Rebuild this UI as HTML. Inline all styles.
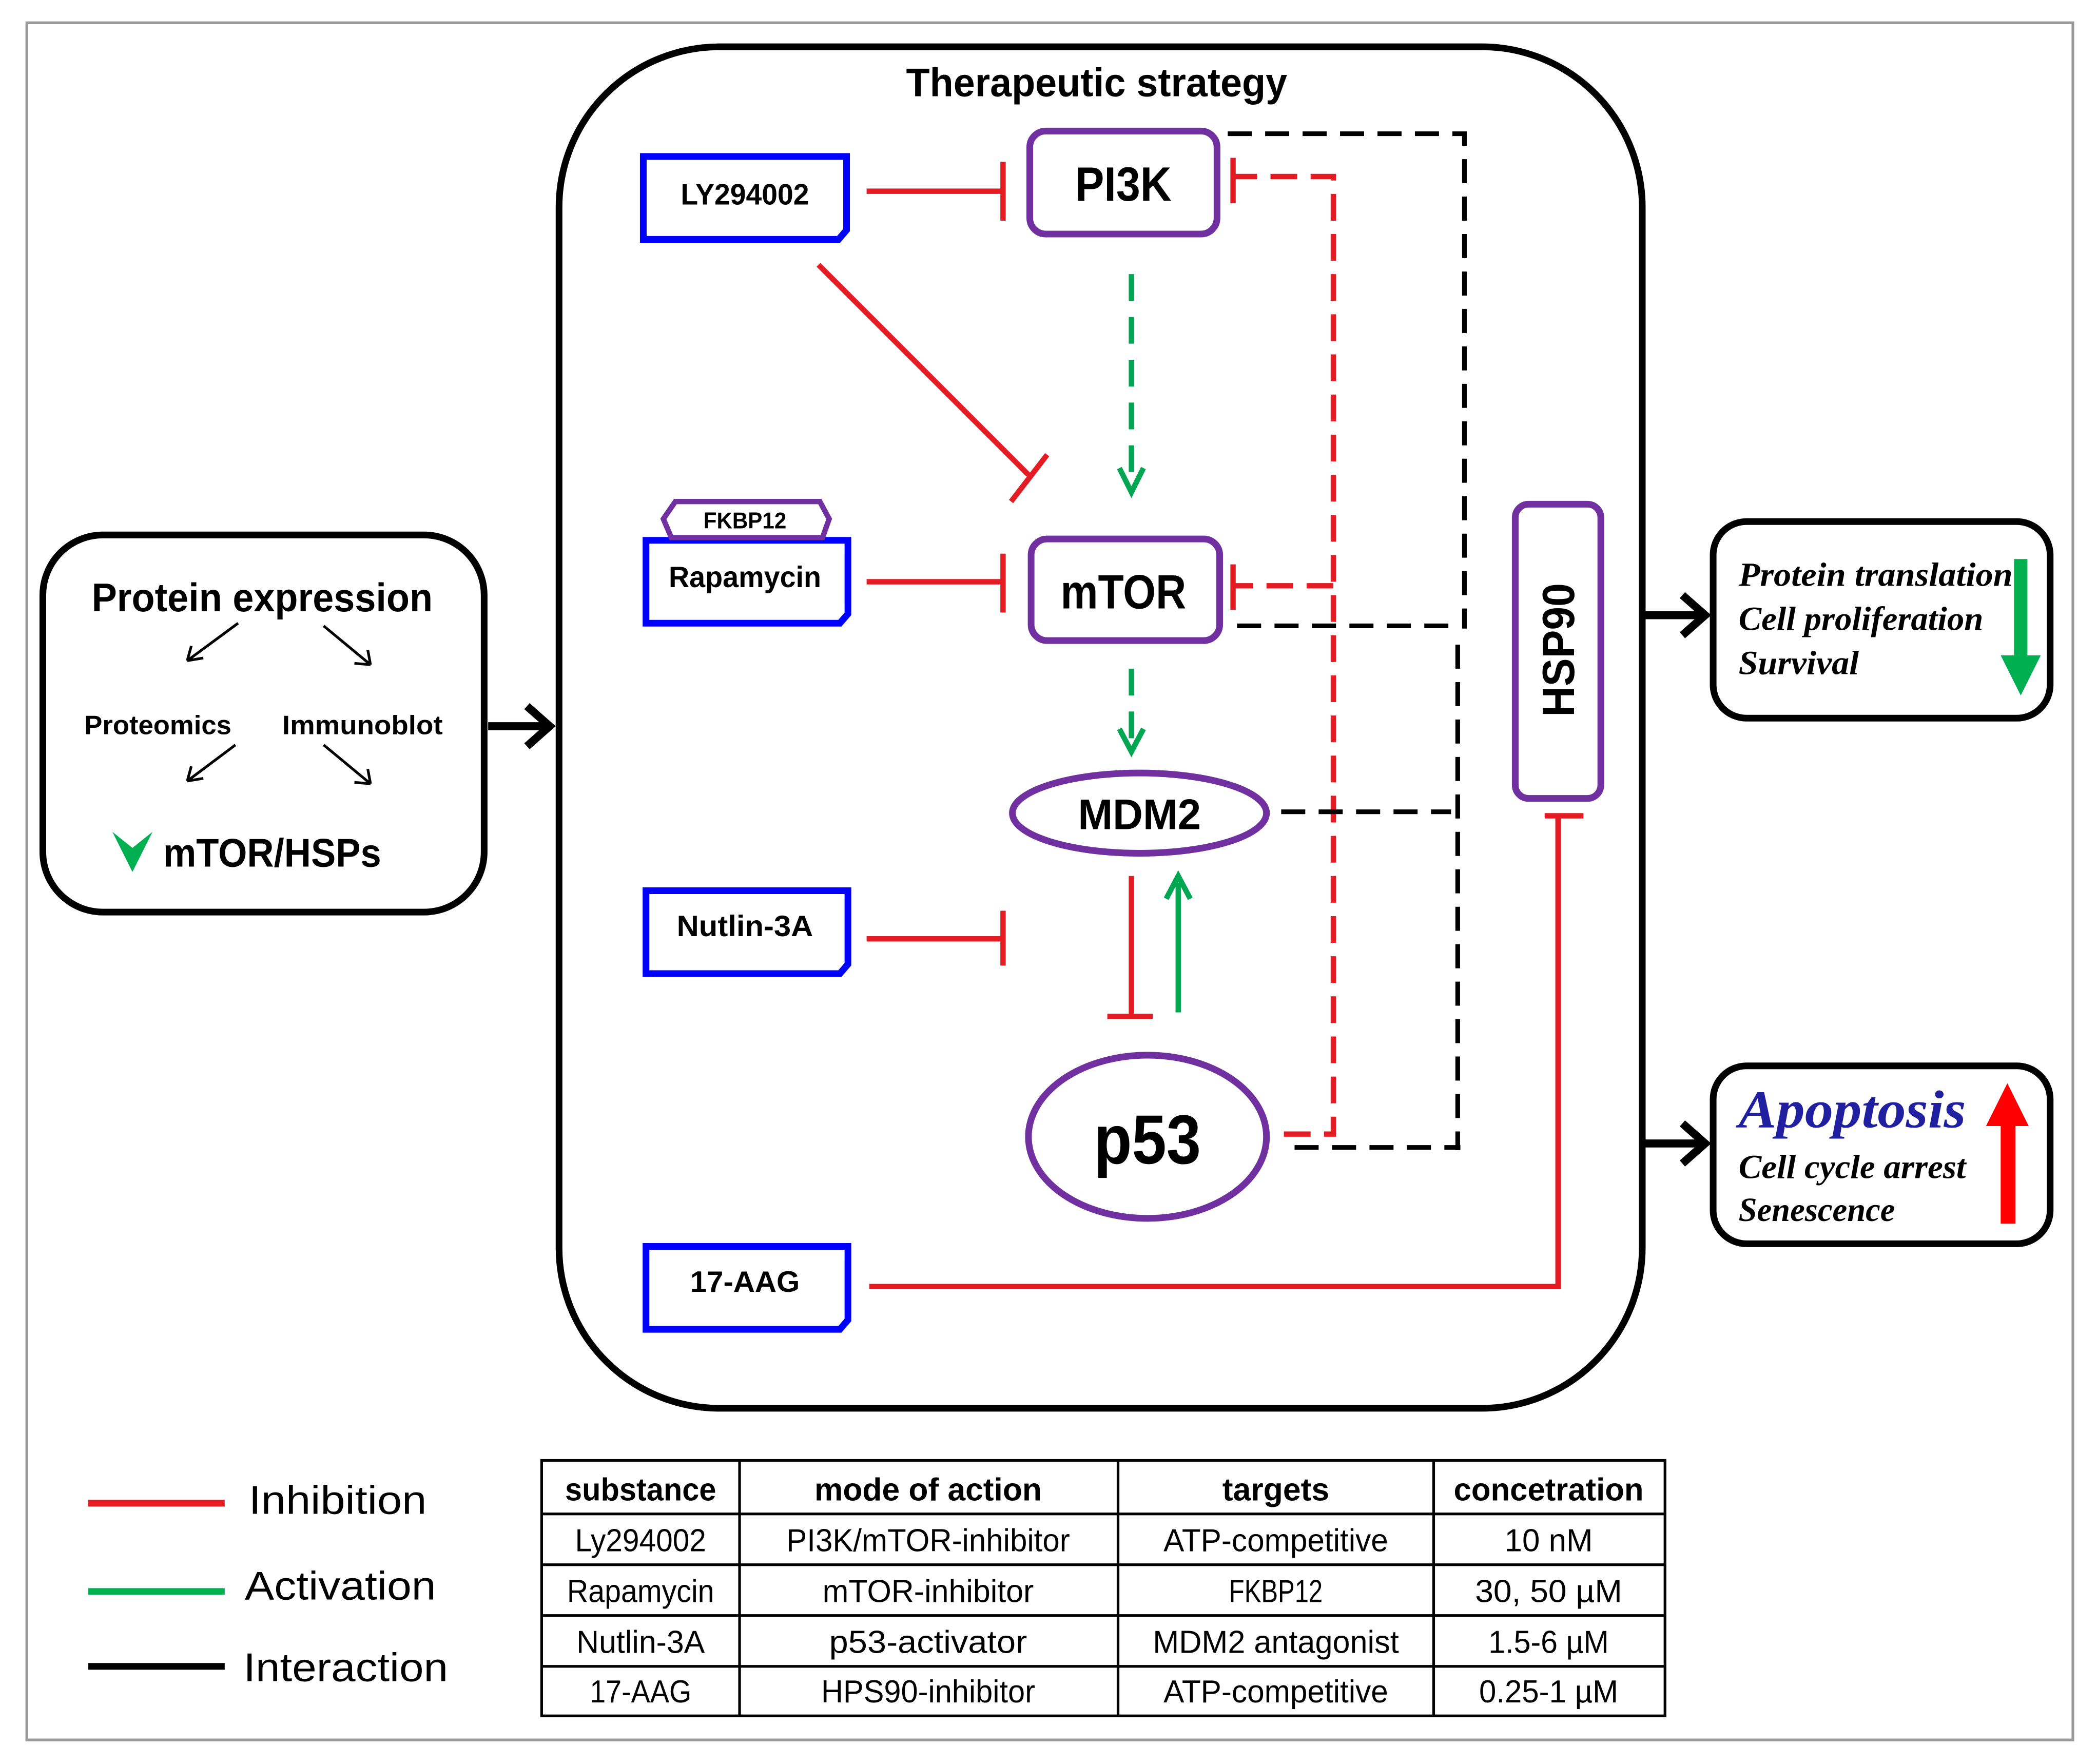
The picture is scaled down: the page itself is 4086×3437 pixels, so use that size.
<!DOCTYPE html>
<html><head><meta charset="utf-8"><style>html,body{margin:0;padding:0;background:#fff}svg{display:block}</style></head><body>
<svg xmlns="http://www.w3.org/2000/svg" width="4086" height="3437" viewBox="0 0 1568 1319" font-family="'Liberation Sans',sans-serif">
<rect x="20" y="17" width="1530" height="1284" fill="#fff" stroke="#999" stroke-width="2"/>
<rect x="32" y="400" width="330" height="282" rx="45" fill="none" stroke="#000" stroke-width="5"/>
<text x="196" y="457" text-anchor="middle" font-size="30" font-weight="bold" textLength="255" lengthAdjust="spacingAndGlyphs">Protein expression</text>
<g stroke="#000" stroke-width="2" fill="none">
<path d="M178,466 L140,494 M140,494 l12,-2 M140,494 l3,-11"/>
<path d="M242,468 L277,497 M277,497 l-12,-1 M277,497 l-2,-11"/>
<path d="M176,557 L140,584 M140,584 l12,-2 M140,584 l3,-11"/>
<path d="M242,557 L277,586 M277,586 l-12,-1 M277,586 l-2,-11"/>
</g>
<text x="118" y="549" text-anchor="middle" font-size="20" font-weight="bold" textLength="110" lengthAdjust="spacingAndGlyphs">Proteomics</text>
<text x="271" y="549" text-anchor="middle" font-size="20" font-weight="bold" textLength="120" lengthAdjust="spacingAndGlyphs">Immunoblot</text>
<path d="M84,622 L99,652 L114,622 L99,634 Z" fill="#00b050"/>
<text x="122" y="648" font-size="30" font-weight="bold" textLength="163" lengthAdjust="spacingAndGlyphs">mTOR/HSPs</text>
<g stroke="#000" stroke-width="6" fill="none">
<path d="M365,543 L410,543 M394,528 L411,543 L394,558"/>
<path d="M1230,460 L1274,460 M1258,445 L1275,460 L1258,475"/>
<path d="M1230,855 L1274,855 M1258,840 L1275,855 L1258,870"/>
</g>
<rect x="418" y="35" width="810" height="1018" rx="120" fill="none" stroke="#000" stroke-width="5"/>
<rect x="670" y="40" width="300" height="40" fill="#fff"/>
<text x="820" y="72" text-anchor="middle" font-size="30" font-weight="bold" textLength="285" lengthAdjust="spacingAndGlyphs">Therapeutic strategy</text>
<g fill="#fff" stroke="#0000ff" stroke-width="5">
<path d="M481,117 H633 V172 L627,179 H481 Z"/>
<path d="M483,404 H634 V459 L628,466 H483 Z"/>
<path d="M483,666 H634 V721 L628,728 H483 Z"/>
<path d="M483,932 H634 V987 L628,994 H483 Z"/>
</g>
<path d="M505,375 H613 L620,388 L615,402 H502 L496,388 Z" fill="#fff" stroke="#7030a0" stroke-width="4"/>
<g font-size="22" font-weight="bold" text-anchor="middle">
<text x="557" y="153" textLength="96" lengthAdjust="spacingAndGlyphs">LY294002</text>
<text x="557" y="439" textLength="114" lengthAdjust="spacingAndGlyphs">Rapamycin</text>
<text x="557" y="700" textLength="102" lengthAdjust="spacingAndGlyphs">Nutlin-3A</text>
<text x="557" y="966" textLength="82" lengthAdjust="spacingAndGlyphs">17-AAG</text>
</g>
<text x="557" y="395" text-anchor="middle" font-size="17" font-weight="bold" textLength="62" lengthAdjust="spacingAndGlyphs">FKBP12</text>
<g fill="#fff" stroke="#7030a0" stroke-width="5">
<rect x="770" y="98" width="140" height="77" rx="12"/>
<rect x="771" y="403" width="141" height="76" rx="12"/>
<ellipse cx="852" cy="608" rx="95" ry="30"/>
<ellipse cx="858" cy="850" rx="89" ry="61"/>
<rect x="1133" y="377" width="64" height="220" rx="10"/>
</g>
<text x="840" y="150" text-anchor="middle" font-size="36" font-weight="bold" textLength="72" lengthAdjust="spacingAndGlyphs">PI3K</text>
<text x="840" y="455" text-anchor="middle" font-size="36" font-weight="bold" textLength="94" lengthAdjust="spacingAndGlyphs">mTOR</text>
<text x="852" y="620" text-anchor="middle" font-size="32" font-weight="bold" textLength="92" lengthAdjust="spacingAndGlyphs">MDM2</text>
<text x="858" y="870" text-anchor="middle" font-size="52" font-weight="bold" textLength="80" lengthAdjust="spacingAndGlyphs">p53</text>
<text transform="translate(1177,486) rotate(-90)" text-anchor="middle" font-size="34" font-weight="bold" textLength="100" lengthAdjust="spacingAndGlyphs">HSP90</text>
<g stroke="#e31b23" stroke-width="4" fill="none">
<path d="M648,143 H750 M750,121 V165"/>
<path d="M612,198 L769,355 M756,375 L783,340"/>
<path d="M648,435 H750 M750,414 V458"/>
<path d="M648,702 H750 M750,681 V722"/>
<path d="M846,655 V760 M828,760 H862"/>
<path d="M650,962 H1165 V610 M1155,610 H1184"/>
<path d="M922,118 V152 M922,422 V456"/>
</g>
<g stroke="#e31b23" stroke-width="4" fill="none" stroke-dasharray="20,10">
<path d="M960,848 H997 V132 H922"/>
<path d="M997,438 H922"/>
</g>
<g stroke="#00a651" stroke-width="4" fill="none">
<path d="M846,205 V360" stroke-dasharray="20,12"/>
<path d="M837,350 L846,368 L855,350"/>
<path d="M846,500 V555" stroke-dasharray="20,12"/>
<path d="M837,545 L846,562 L855,545"/>
<path d="M881,757 V660 M872,672 L881,655 L890,672"/>
</g>
<g stroke="#000" stroke-width="3.5" fill="none" stroke-dasharray="18,10">
<path d="M918,100 H1095 V470"/>
<path d="M925,468 H1092"/>
<path d="M1090,482 V860"/>
<path d="M958,607 H1085"/>
<path d="M968,858 H1092"/>
</g>
<rect x="1281" y="390" width="252" height="147" rx="25" fill="none" stroke="#000" stroke-width="5"/>
<g font-family="'Liberation Serif',serif" font-style="italic" font-weight="bold" font-size="25">
<text x="1300" y="438" textLength="205" lengthAdjust="spacingAndGlyphs">Protein translation</text>
<text x="1300" y="471" textLength="183" lengthAdjust="spacingAndGlyphs">Cell proliferation</text>
<text x="1300" y="504" textLength="90" lengthAdjust="spacingAndGlyphs">Survival</text>
</g>
<path d="M1506,418 H1516 V490 H1526 L1511,520 L1496,490 H1506 Z" fill="#00b050"/>
<rect x="1281" y="797" width="252" height="133" rx="25" fill="none" stroke="#000" stroke-width="5"/>
<text x="1300" y="843" font-family="'Liberation Serif',serif" font-style="italic" font-weight="bold" font-size="40" fill="#1f1fa0" textLength="170" lengthAdjust="spacingAndGlyphs">Apoptosis</text>
<g font-family="'Liberation Serif',serif" font-style="italic" font-weight="bold" font-size="25">
<text x="1300" y="881" textLength="170" lengthAdjust="spacingAndGlyphs">Cell cycle arrest</text>
<text x="1300" y="913" textLength="117" lengthAdjust="spacingAndGlyphs">Senescence</text>
</g>
<path d="M1496,915 H1507 V842 H1517 L1501,810 L1485,842 H1496 Z" fill="#ff0000"/>
<g stroke-width="5">
<line x1="66" y1="1124" x2="168" y2="1124" stroke="#e31b23"/>
<line x1="66" y1="1190" x2="168" y2="1190" stroke="#00b050"/>
<line x1="66" y1="1246" x2="168" y2="1246" stroke="#000"/>
</g>
<g font-size="30">
<text x="186" y="1132" textLength="133" lengthAdjust="spacingAndGlyphs">Inhibition</text>
<text x="183" y="1196" textLength="143" lengthAdjust="spacingAndGlyphs">Activation</text>
<text x="182" y="1257" textLength="153" lengthAdjust="spacingAndGlyphs">Interaction</text>
</g>
<g stroke="#000" stroke-width="2" fill="none">
<rect x="405" y="1092" width="840" height="191"/>
<path d="M553,1092 V1283 M836,1092 V1283 M1072,1092 V1283 M405,1132 H1245 M405,1170 H1245 M405,1208 H1245 M405,1246 H1245"/>
</g>
<g text-anchor="middle" font-size="24">
<g font-weight="bold">
<text x="479" y="1122" textLength="113" lengthAdjust="spacingAndGlyphs">substance</text><text x="694" y="1122" textLength="170" lengthAdjust="spacingAndGlyphs">mode of action</text><text x="954" y="1122" textLength="80" lengthAdjust="spacingAndGlyphs">targets</text><text x="1158" y="1122" textLength="142" lengthAdjust="spacingAndGlyphs">concetration</text>
</g>
<text x="479" y="1160" textLength="98" lengthAdjust="spacingAndGlyphs">Ly294002</text><text x="694" y="1160" textLength="212" lengthAdjust="spacingAndGlyphs">PI3K/mTOR-inhibitor</text><text x="954" y="1160" textLength="168" lengthAdjust="spacingAndGlyphs">ATP-competitive</text><text x="1158" y="1160" textLength="66" lengthAdjust="spacingAndGlyphs">10 nM</text>
<text x="479" y="1198" textLength="110" lengthAdjust="spacingAndGlyphs">Rapamycin</text><text x="694" y="1198" textLength="158" lengthAdjust="spacingAndGlyphs">mTOR-inhibitor</text><text x="954" y="1198" textLength="70" lengthAdjust="spacingAndGlyphs">FKBP12</text><text x="1158" y="1198" textLength="110" lengthAdjust="spacingAndGlyphs">30, 50 µM</text>
<text x="479" y="1236" textLength="96" lengthAdjust="spacingAndGlyphs">Nutlin-3A</text><text x="694" y="1236" textLength="148" lengthAdjust="spacingAndGlyphs">p53-activator</text><text x="954" y="1236" textLength="184" lengthAdjust="spacingAndGlyphs">MDM2 antagonist</text><text x="1158" y="1236" textLength="90" lengthAdjust="spacingAndGlyphs">1.5-6 µM</text>
<text x="479" y="1273" textLength="76" lengthAdjust="spacingAndGlyphs">17-AAG</text><text x="694" y="1273" textLength="160" lengthAdjust="spacingAndGlyphs">HPS90-inhibitor</text><text x="954" y="1273" textLength="168" lengthAdjust="spacingAndGlyphs">ATP-competitive</text><text x="1158" y="1273" textLength="104" lengthAdjust="spacingAndGlyphs">0.25-1 µM</text>
</g>
</svg>
</body></html>
